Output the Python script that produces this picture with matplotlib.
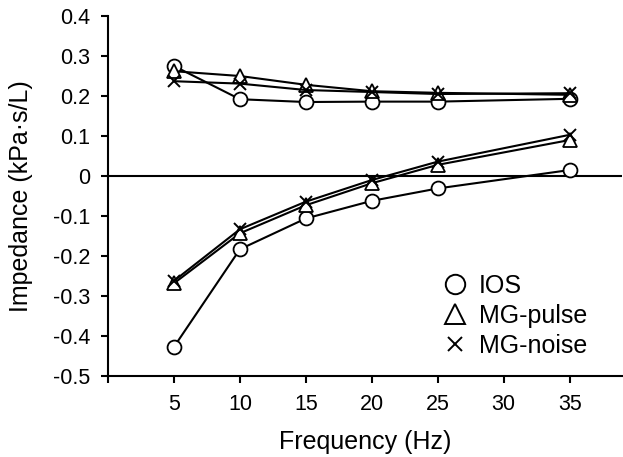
import matplotlib
matplotlib.use('Agg')
import matplotlib.pyplot as plt

plt.rcParams['font.family'] = ['Liberation Sans', 'DejaVu Sans']

freq = [5, 10, 15, 20, 25, 35]

# resistance (upper curves)
ios_r = [0.275, 0.192, 0.185, 0.186, 0.186, 0.193]
pulse_r = [0.262, 0.250, 0.228, 0.212, 0.208, 0.203]
noise_r = [0.237, 0.231, 0.215, 0.210, 0.205, 0.207]

# reactance (lower curves)
ios_x = [-0.427, -0.183, -0.106, -0.062, -0.031, 0.015]
pulse_x = [-0.268, -0.143, -0.073, -0.018, 0.028, 0.090]
noise_x = [-0.262, -0.133, -0.064, -0.010, 0.036, 0.103]

yticks = [-0.5, -0.4, -0.3, -0.2, -0.1, 0, 0.1, 0.2, 0.3, 0.4]
ytick_labels = ['-0.5', '-0.4', '-0.3', '-0.2', '-0.1', '0', '0.1', '0.2', '0.3', '0.4']
xticks = [0, 5, 10, 15, 20, 25, 30, 35]
xtick_labels = ['', '5', '10', '15', '20', '25', '30', '35']

fig = plt.figure(figsize=(6.23, 4.57), dpi=100)
ax = fig.add_axes([0.1734, 0.177, 0.8256, 0.788])

lw = 1.5
ms = 10
mk = dict(color='black', linewidth=lw, markersize=ms,
          markerfacecolor='white', markeredgecolor='black', markeredgewidth=1.3)

ax.axhline(0, color='black', linewidth=1.5, zorder=1)

ax.plot(freq, ios_r, marker='o', **mk, label='IOS')
ax.plot(freq, ios_x, marker='o', **mk)
ax.plot(freq, pulse_r, marker='^', **mk, label='MG-pulse')
ax.plot(freq, pulse_x, marker='^', **mk)
ax.plot(freq, noise_r, marker='x', color='black', linewidth=lw, markersize=9,
        markeredgewidth=1.4, label='MG-noise')
ax.plot(freq, noise_x, marker='x', color='black', linewidth=lw, markersize=9,
        markeredgewidth=1.4)

ax.set_xlim(0, 39)
ax.set_ylim(-0.5, 0.4)
ax.set_xticks(xticks)
ax.set_xticklabels(xtick_labels)
ax.set_yticks(yticks)
ax.set_yticklabels(ytick_labels)
ax.tick_params(direction='out', length=5, width=1.5, labelsize=15.5, pad=8)

ax.spines['top'].set_visible(False)
ax.spines['right'].set_visible(False)
ax.spines['left'].set_linewidth(1.5)
ax.spines['bottom'].set_linewidth(1.5)

ax.set_xlabel('Frequency (Hz)', fontsize=18, labelpad=11)
ax.set_ylabel('Impedance (kPa·s/L)', fontsize=18, labelpad=14)

leg = ax.legend(loc='lower right', bbox_to_anchor=(0.932, 0.05), frameon=False,
                fontsize=18, handlelength=0.9, handletextpad=0.5,
                labelspacing=0.25, borderpad=0, borderaxespad=0)
for h, size in zip(leg.legend_handles, [14, 14, 9.5]):
    h.set_linestyle('None')
    h.set_markersize(size)
    h.set_markeredgewidth(1.4)

fig.savefig('out.png', dpi=100)
